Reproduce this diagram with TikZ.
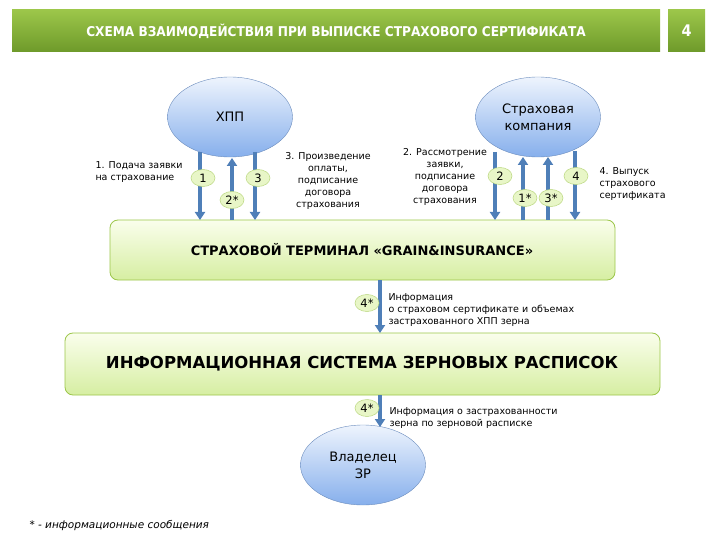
\documentclass[tikz,border=0pt]{standalone}
\usepackage{fontspec}
\setmainfont{DejaVu Sans}
\newfontfamily\condf{DejaVu Sans Condensed}
\usetikzlibrary{shapes.geometric,arrows.meta}
\definecolor{gtop}{HTML}{9CC64A}
\definecolor{gbot}{HTML}{6E9A2A}
\definecolor{btop}{HTML}{EEF4FD}
\definecolor{bbot}{HTML}{86AFEC}
\definecolor{ltop}{HTML}{FAFEEC}
\definecolor{lbot}{HTML}{D6EEA2}
\definecolor{arr}{HTML}{4F7FB8}
\tikzset{
 bar/.style={top color=gtop,bottom color=gbot,draw=none,text=white,font=\condf\bfseries\fontsize{13.5}{14}\selectfont},
 ell/.style={ellipse,top color=btop,bottom color=bbot,draw=bbot!80!black,line width=0.4pt,minimum width=125pt,minimum height=80pt,align=center,font=\fontsize{13}{17}\selectfont},
 term/.style={rounded corners=8pt,top color=ltop,bottom color=lbot,draw=gtop,line width=0.8pt},
 tag/.style={ellipse,fill=ltop!50!lbot,draw=gtop!70,line width=0.5pt,inner sep=0.5pt,minimum width=24pt,minimum height=17pt,font=\fontsize{11.5}{12}\selectfont},
 lab/.style={align=center,font=\fontsize{9.5}{12}\selectfont},
 ar/.style={draw=arr,line width=3.5pt,-{Triangle[length=8pt,width=10pt]}},
}
\begin{document}
\begin{tikzpicture}[x=1pt,y=-1pt]
\useasboundingbox (0,0) rectangle (720,540);
\node[bar,minimum width=648pt,minimum height=42pt] (title) at (336,31) {СХЕМА ВЗАИМОДЕЙСТВИЯ ПРИ ВЫПИСКЕ СТРАХОВОГО СЕРТИФИКАТА};
\node[bar,minimum width=37pt,minimum height=42pt,font=\condf\bfseries\fontsize{16}{16}\selectfont] (num) at (686.5,31) {4};
\node[ell] (hpp) at (230,117) {ХПП};
\node[ell] (sk) at (538,117) {Страховая\\компания};
\node[term,minimum width=505pt,minimum height=60pt] (t) at (362.5,250) {};
\node[font=\bfseries\fontsize{13}{14}\selectfont] (tt) at (362,250) {СТРАХОВОЙ ТЕРМИНАЛ «GRAIN\&INSURANCE»};
\node[term,minimum width=595pt,minimum height=62pt] (is) at (362.5,364) {};
\node[font=\bfseries\fontsize{16.5}{17}\selectfont] (ist) at (362,364) {ИНФОРМАЦИОННАЯ СИСТЕМА ЗЕРНОВЫХ РАСПИСОК};
\node[ell] (own) at (363,465) {Владелец\\ЗР};
% arrows
\coordinate (a1t) at (200,152); \coordinate (a1b) at (200,220);
\coordinate (a2t) at (232,158); \coordinate (a2b) at (232,220);
\coordinate (a3t) at (255,152); \coordinate (a3b) at (255,220);
\coordinate (b2t) at (495,152); \coordinate (b2b) at (495,220);
\coordinate (b1t) at (523,157); \coordinate (b1b) at (523,220);
\coordinate (b3t) at (548,157); \coordinate (b3b) at (548,220);
\coordinate (b4t) at (575,151); \coordinate (b4b) at (575,220);
\coordinate (c1t) at (380,280); \coordinate (c1b) at (380,333);
\coordinate (c2t) at (380,395); \coordinate (c2b) at (380,427);
\draw[ar] (a1t) -- (a1b);
\draw[ar] (a2b) -- (a2t);
\draw[ar] (a3t) -- (a3b);
\draw[ar] (b2t) -- (b2b);
\draw[ar] (b1b) -- (b1t);
\draw[ar] (b3b) -- (b3t);
\draw[ar] (b4t) -- (b4b);
\draw[ar] (c1t) -- (c1b);
\draw[ar] (c2t) -- (c2b);
% tags
\node[tag] (g1) at (203,178) {1};
\node[tag] (g2) at (232,200) {2*};
\node[tag] (g3) at (258,178) {3};
\node[tag] (h2) at (500,176) {2};
\node[tag] (h1) at (525,198) {1*};
\node[tag] (h3) at (551,198) {3*};
\node[tag] (h4) at (576,176) {4};
\node[tag] (k1) at (367,303) {4*};
\node[tag] (k2) at (367,408) {4*};
% labels
\node[lab,align=left,anchor=west] (l1) at (92,172) {1. Подача заявки\\на страхование};
\node[lab] (l3) at (328,181) {3. Произведение\\оплаты,\\подписание\\договора\\страхования};
\node[lab] (l2) at (445,177) {2. Рассмотрение\\заявки,\\подписание\\договора\\страхования};
\node[lab,align=left,anchor=west] (l4) at (596,184) {4. Выпуск\\страхового\\сертификата};
\node[lab,align=left,anchor=west] (l5) at (385,310) {Информация\\о страховом сертификате и объемах\\застрахованного ХПП зерна};
\node[lab,align=left,anchor=west] (l6) at (386,418) {Информация о застрахованности\\зерна по зерновой расписке};
\node[lab,anchor=west,font=\itshape\fontsize{10.5}{11}\selectfont] (fn) at (26,526) {* - информационные сообщения};
\end{tikzpicture}
\end{document}
